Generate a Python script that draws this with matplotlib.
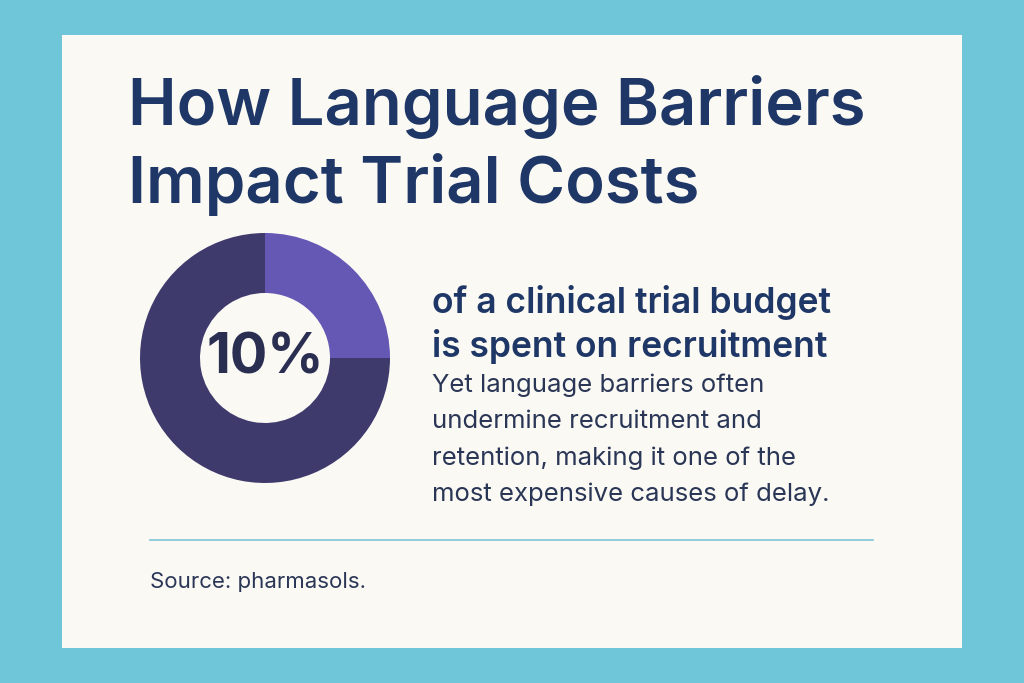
import matplotlib
matplotlib.use("Agg")
import matplotlib.pyplot as plt
from matplotlib.patches import Rectangle

title_lines = ["How Language Barriers", "Impact Trial Costs"]
share_label = "10%"
slice_values = [25, 75]
slice_colors = ["#6458B4", "#3E3A6C"]
headline = ["of a clinical trial budget", "is spent on recruitment"]
body = ["Yet language barriers often", "undermine recruitment and",
        "retention, making it one of the", "most expensive causes of delay."]
source = "Source: pharmasols."

W, H = 1024, 683
fig = plt.figure(figsize=(W/100, H/100), dpi=100)
fig.patch.set_facecolor("#6EC6D8")
fig.patches.append(Rectangle((62/W, 1-648/H), 900/W, 613/H, transform=fig.transFigure,
                             facecolor="#FBF9F4", edgecolor="none", zorder=-1))
def ty(y): return 1 - y/H
navy = "#1E3766"
for i, t in enumerate(title_lines):
    fig.text(128/W, ty(107 + i*78), t, fontsize=47, fontweight="semibold", color=navy,
             va="center", ha="left", family="Inter")
ax = fig.add_axes([140/W, ty(483), 250/W, 250/H])
ax.set_zorder(5)
ax.patch.set_alpha(0)
ax.pie(slice_values, colors=slice_colors, startangle=90, counterclock=False,
       radius=1, wedgeprops=dict(width=0.48, edgecolor="none"))
ax.set_xlim(-1, 1)
ax.set_ylim(-1, 1)
ax.set_aspect("equal")
ax.text(0, 0, share_label, ha="center", va="center", fontsize=40, fontweight="bold",
        color="#2A2F52", family="Inter")
for i, t in enumerate(headline):
    fig.text(432/W, ty(303 + i*43), t, fontsize=25.5, fontweight="semibold", color=navy,
             va="center", ha="left", family="Inter")
for i, t in enumerate(body):
    fig.text(432/W, ty(385 + i*36.5), t, fontsize=18.5, color="#2A3656",
             va="center", ha="left", family="Inter")
fig.add_artist(plt.Line2D([150/W, 873/W], [ty(540), ty(540)], color="#7FC3DA", lw=1.2))
fig.text(150/W, ty(582), source, fontsize=16, color="#2A3656", va="center", ha="left",
         family="Inter")
fig.savefig("out.png", dpi=100, facecolor=fig.get_facecolor())
